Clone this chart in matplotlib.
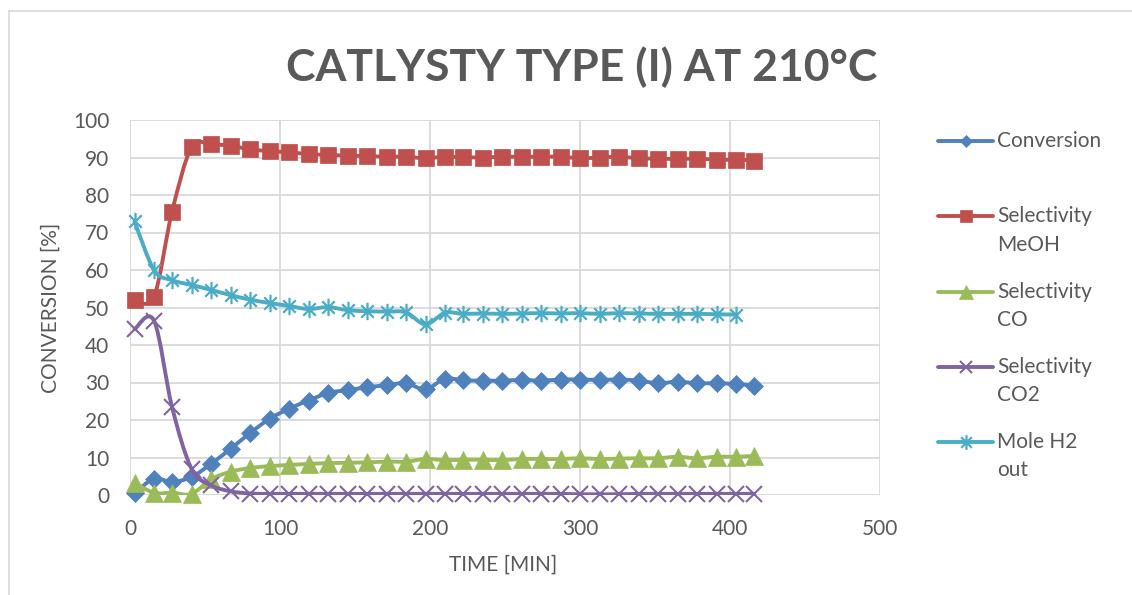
import matplotlib
matplotlib.use("Agg")
import matplotlib.pyplot as plt
from matplotlib.path import Path
from matplotlib.patches import PathPatch
from matplotlib.lines import Line2D

# ---------------- data ----------------
time_min = [3, 16, 28, 41, 54, 67, 80, 93, 106, 119, 132, 145, 158, 171, 184, 197,
            210, 222, 235, 248, 261, 274, 287, 300, 313, 326, 339, 352, 365, 378,
            391, 404, 416]
conversion = [0.5, 4.3, 3.5, 4.8, 8.3, 12.3, 16.5, 20.3, 23.0, 25.2, 27.2, 28.0, 28.7,
              29.3, 29.8, 28.2, 31.0, 30.6, 30.5, 30.5, 30.7, 30.5, 30.8, 30.8, 30.7,
              30.8, 30.5, 29.8, 30.2, 29.8, 29.8, 29.6, 29.2]
sel_meoh = [52.0, 52.9, 75.5, 92.7, 93.5, 93.1, 92.2, 91.7, 91.4, 90.9, 90.7, 90.5,
            90.4, 90.2, 90.2, 89.8, 90.2, 90.1, 90.0, 90.2, 90.2, 90.2, 90.2, 89.8,
            90.0, 90.2, 89.8, 89.7, 89.6, 89.7, 89.4, 89.4, 89.2]
sel_co = [3.2, 0.6, 0.6, 0.3, 4.2, 6.2, 7.2, 7.7, 8.0, 8.3, 8.5, 8.6, 8.7, 8.9, 8.9,
          9.6, 9.3, 9.4, 9.4, 9.3, 9.6, 9.6, 9.6, 9.8, 9.6, 9.7, 9.8, 9.8, 10.2, 9.8,
          10.2, 10.2, 10.4]
sel_co2 = [44.2, 46.5, 23.5, 7.0, 2.6, 1.0, 0.4, 0.3, 0.3, 0.3, 0.3, 0.3, 0.3, 0.3,
           0.3, 0.3, 0.3, 0.3, 0.3, 0.3, 0.3, 0.3, 0.3, 0.2, 0.2, 0.2, 0.3, 0.3, 0.3,
           0.3, 0.3, 0.3, 0.3]
mole_h2 = [73.0, 60.0, 57.3, 56.0, 54.7, 53.3, 52.1, 51.2, 50.4, 49.6, 50.1, 49.3,
           49.0, 48.9, 48.7, 45.5, 48.6, 48.3, 48.4, 48.3, 48.4, 48.5, 48.4, 48.5,
           48.3, 48.5, 48.4, 48.3, 48.3, 48.3, 48.2, 48.1]
time_h2 = time_min[:len(mole_h2)]

series_labels = [["Conversion"], ["Selectivity", "MeOH"], ["Selectivity", "CO"],
                 ["Selectivity", "CO2"], ["Mole H2", "out"]]
title = "CATLYSTY TYPE (I) AT 210°C"
xlabel = "TIME [MIN]"
ylabel = "CONVERSION [%]"
xticks = [0, 100, 200, 300, 400, 500]
yticks = [0, 10, 20, 30, 40, 50, 60, 70, 80, 90, 100]

# ---------------- style ----------------
W, H = 1132, 595
TXT = "#595959"
GRID = "#D9D9D9"
FONT = "Lato"
colors = ["#4F81BD", "#C0504D", "#9BBB59", "#8064A2", "#4BACC6"]

star = Path([(0, -1), (0, 1), (-0.72, -0.72), (0.72, 0.72), (-0.72, 0.72), (0.72, -0.72)],
            [Path.MOVETO, Path.LINETO, Path.MOVETO, Path.LINETO, Path.MOVETO, Path.LINETO])

marker_specs = [
    dict(marker="D", markersize=8.8, mew=0.5),
    dict(marker="s", markersize=11.5, mew=0.5),
    dict(marker="^", markersize=12.5, mew=0.5),
    dict(marker="x", markersize=11.5, mew=1.5),
    dict(marker=star, markersize=12.5, mew=1.6),
]
legend_marker_scale = [0.75, 0.75, 0.75, 0.8, 0.85]


def smooth_path(x, y):
    verts = [(x[0], y[0])]
    codes = [Path.MOVETO]
    n = len(x)
    for i in range(n - 1):
        xa, ya = (x[i - 1], y[i - 1]) if i > 0 else (x[i], y[i])
        xb, yb = (x[i + 2], y[i + 2]) if i + 2 < n else (x[i + 1], y[i + 1])
        c1 = (x[i] + (x[i + 1] - xa) / 6.0, y[i] + (y[i + 1] - ya) / 6.0)
        c2 = (x[i + 1] - (xb - x[i]) / 6.0, y[i + 1] - (yb - y[i]) / 6.0)
        verts += [c1, c2, (x[i + 1], y[i + 1])]
        codes += [Path.CURVE4] * 3
    return Path(verts, codes)


fig = plt.figure(figsize=(W / 100, H / 100), dpi=100)
fig.patch.set_facecolor("white")

# chart-area border (top and left edges visible)
fig.add_artist(Line2D([9 / W, 9 / W], [0, 1 - 10.5 / H], transform=fig.transFigure,
                      color=GRID, lw=1.2))
fig.add_artist(Line2D([9 / W, 1], [1 - 10.5 / H, 1 - 10.5 / H], transform=fig.transFigure,
                      color=GRID, lw=1.2))

# plot area: x 0..500 -> px 130..880, y 0..100 -> px 495..120
ax = fig.add_axes([130 / W, 1 - 495 / H, 750 / W, 375 / H])
ax.set_xlim(0, 500)
ax.set_ylim(0, 100)
ax.set_xticks(xticks)
ax.set_yticks(yticks)
for s in ax.spines.values():
    s.set_visible(False)
ax.grid(True, color=GRID, lw=1.3)
ax.set_axisbelow(True)
ax.tick_params(length=0, labelcolor=TXT, labelsize=15)
ax.tick_params(axis="y", pad=15)
ax.tick_params(axis="x", pad=17)
for lab in ax.get_xticklabels() + ax.get_yticklabels():
    lab.set_fontfamily(FONT)

all_x = [time_min, time_min, time_min, time_min, time_h2]
all_y = [conversion, sel_meoh, sel_co, sel_co2, mole_h2]

for k, (xs, ys) in enumerate(zip(all_x, all_y)):
    c = colors[k]
    p = PathPatch(smooth_path(xs, ys), fill=False, edgecolor=c, lw=2.8,
                  capstyle="round", joinstyle="round", zorder=3 + 2 * k)
    ax.add_patch(p)
    ax.plot(xs, ys, linestyle="none", color=c, markerfacecolor=c, markeredgecolor=c,
            zorder=4 + 2 * k, clip_on=False, **marker_specs[k])

ax.set_xlabel(xlabel, color=TXT, fontsize=15, fontfamily=FONT)
ax.xaxis.set_label_coords((503 - 130) / 750, (495 - 565) / 375)
ax.xaxis.label.set_va("center")
ax.set_ylabel(ylabel, color=TXT, fontsize=15, fontfamily=FONT)
ax.yaxis.set_label_coords((51 - 130) / 750, (495 - 308) / 375)
ax.yaxis.label.set_va("center")

fig.text(582 / W, 1 - 67 / H, title, ha="center", va="center", color=TXT,
         fontsize=32, fontweight="bold", fontfamily=FONT)

# legend (drawn by hand to match the layout)
line_rows = [(141,), (216, 245), (292, 320), (367, 395), (442, 470)]
for k in range(5):
    c = colors[k]
    y0 = line_rows[k][0]
    fy = 1 - y0 / H
    spec = dict(marker_specs[k])
    spec["markersize"] = spec["markersize"] * legend_marker_scale[k]
    fig.add_artist(Line2D([938 / W, 993 / W], [fy, fy], transform=fig.transFigure,
                          color=c, lw=2.8, solid_capstyle="round"))
    fig.add_artist(Line2D([965.5 / W], [fy], transform=fig.transFigure, linestyle="none",
                          color=c, markerfacecolor=c, markeredgecolor=c, **spec))
    for txt, yy in zip(series_labels[k], line_rows[k]):
        fig.text(997 / W, 1 - yy / H, txt, ha="left", va="center", color=TXT,
                 fontsize=15, fontfamily=FONT)

fig.savefig("out.png", dpi=100, facecolor="white")
